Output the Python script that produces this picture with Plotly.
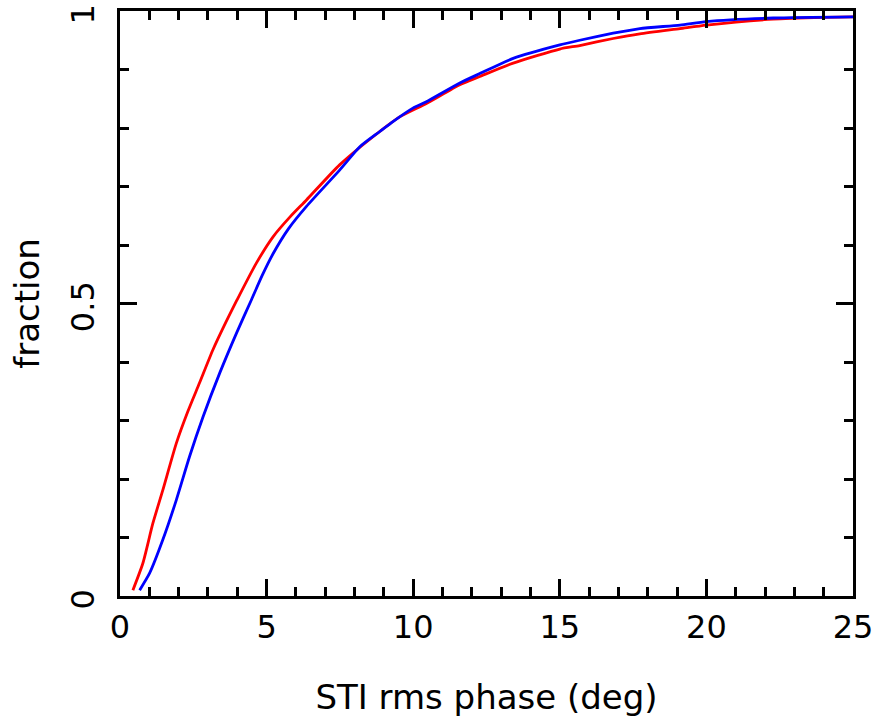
import plotly.graph_objects as go

red_x = [0.44, 0.78, 1.12, 1.46, 1.92, 2.31, 2.71, 3.17, 3.62, 3.99, 4.65, 5.22, 5.80, 6.36, 7.49, 8.63,
         9.54, 10.45, 11.59, 12.27, 13.41, 15.0, 15.68, 16.82, 17.73, 19.1, 20.0, 22.28, 24.0, 25.0]
red_y = [0.010, 0.056, 0.124, 0.181, 0.261, 0.315, 0.364, 0.421, 0.469, 0.506, 0.569, 0.614, 0.648, 0.677, 0.737, 0.785,
         0.819, 0.842, 0.874, 0.888, 0.911, 0.935, 0.941, 0.953, 0.961, 0.970, 0.976, 0.986, 0.989, 0.990]

blue_x = [0.67, 1.01, 1.46, 1.92, 2.37, 2.83, 3.40, 3.97, 4.48, 4.85, 5.22, 5.75, 6.36, 7.49, 8.18, 8.86, 9.31,
          9.99, 10.45, 11.59, 12.27, 13.41, 15.0, 15.68, 16.82, 17.73, 19.1, 20.0, 22.28, 25.0]
blue_y = [0.010, 0.039, 0.096, 0.164, 0.238, 0.306, 0.381, 0.449, 0.506, 0.548, 0.585, 0.628, 0.666, 0.728, 0.768, 0.794, 0.811,
          0.834, 0.845, 0.877, 0.893, 0.919, 0.942, 0.950, 0.962, 0.970, 0.976, 0.982, 0.988, 0.990]

x_ticks = [0, 5, 10, 15, 20, 25]
x_ticklabels = ["0", "5", "10", "15", "20", "25"]
y_ticks = [0, 0.5, 1]
y_ticklabels = ["0", "0.5", "1"]

FONT = "DejaVu Sans"

fig = go.Figure()
fig.add_trace(go.Scatter(x=red_x, y=red_y, mode="lines",
                         line=dict(color="#ff0000", width=2.8, shape="spline", smoothing=0.6),
                         showlegend=False))
fig.add_trace(go.Scatter(x=blue_x, y=blue_y, mode="lines",
                         line=dict(color="#0000ff", width=2.8, shape="spline", smoothing=0.6),
                         showlegend=False))

axis_common = dict(
    showgrid=False, zeroline=False,
    showline=True, linecolor="black", linewidth=3, mirror="ticks",
    ticks="inside", ticklen=17, tickwidth=3, tickcolor="black",
    tickfont=dict(family=FONT, size=32, color="black"),
    ticklabeloverflow="allow",
)

fig.update_xaxes(
    range=[0, 25], tickvals=x_ticks, ticktext=x_ticklabels, ticklabelstandoff=1,
    minor=dict(ticks="inside", dtick=1, ticklen=9, tickwidth=3, tickcolor="black"),
    title=dict(text="STI rms phase (deg)", font=dict(family=FONT, size=34, color="black"), standoff=40),
    **axis_common,
)
fig.update_yaxes(
    range=[0, 1], tickvals=y_ticks, ticktext=y_ticklabels, tickangle=-90,
    ticklabelstandoff=10, ticklabelshift=8,
    minor=dict(ticks="inside", dtick=0.1, ticklen=9, tickwidth=3, tickcolor="black"),
    title=dict(text="fraction", font=dict(family=FONT, size=34, color="black"), standoff=15),
    **axis_common,
)

fig.update_layout(
    width=880, height=723,
    margin=dict(l=120, r=27, t=11, b=127, autoexpand=False),
    plot_bgcolor="white", paper_bgcolor="white",
)

fig.write_html("out.html", config={"displayModeBar": False},
               post_script="document.body.style.margin='0';")
